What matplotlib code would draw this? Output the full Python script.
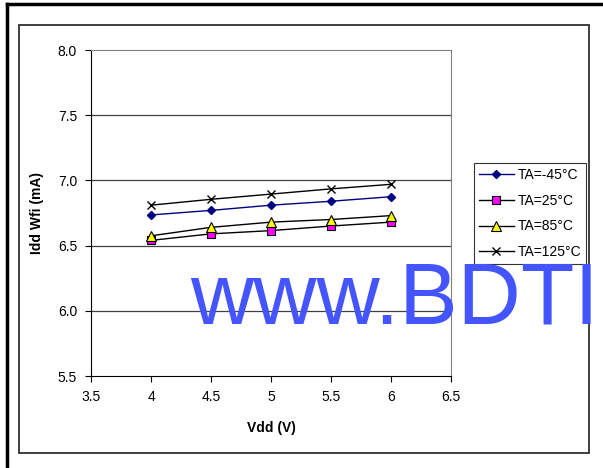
import matplotlib.pyplot as plt
from matplotlib.lines import Line2D
from matplotlib.patches import Rectangle

plt.rcParams['font.family'] = ['Liberation Sans', 'DejaVu Sans']

vdd = [4, 4.5, 5, 5.5, 6]
idd_m45 = [6.735, 6.77, 6.81, 6.84, 6.875]
idd_25 = [6.54, 6.59, 6.615, 6.65, 6.68]
idd_85 = [6.575, 6.64, 6.68, 6.70, 6.73]
idd_125 = [6.81, 6.855, 6.895, 6.935, 6.97]
labels = ["TA=-45°C", "TA=25°C", "TA=85°C", "TA=125°C"]

W, H = 603, 468
fig = plt.figure(figsize=(W / 100, H / 100), dpi=100)

# page frames
fig.add_artist(Line2D([6.5 / W, 6.5 / W], [0, 1 - 3.5 / H], color='black', lw=2.5,
                      transform=fig.transFigure))
fig.add_artist(Line2D([6.5 / W, 1], [1 - 3.5 / H, 1 - 3.5 / H], color='black', lw=2.5,
                      transform=fig.transFigure))
fig.add_artist(Rectangle((19 / W, (H - 453) / H), 570 / W, 428 / H, fill=False,
                         edgecolor='#303030', lw=1.3, transform=fig.transFigure))

ax = fig.add_axes([91 / W, (H - 376) / H, 360 / W, 326 / H])

ax.plot(vdd, idd_m45, color='#000080', lw=1, marker='D', ms=4.5,
        mfc='#000080', mec='#000080', label=labels[0])
ax.plot(vdd, idd_25, color='black', lw=1, marker='s', ms=6,
        mfc='#FF00FF', mec='black', mew=0.8, label=labels[1])
ax.plot(vdd, idd_85, color='black', lw=1, marker='^', ms=7,
        mfc='#FFFF00', mec='black', mew=0.8, label=labels[2])
ax.plot(vdd, idd_125, color='black', lw=1, marker='x', ms=6,
        mec='black', mew=1, label=labels[3])

ax.set_xlim(3.5, 6.5)
ax.set_ylim(5.5, 8.0)
ax.set_xticks([3.5, 4, 4.5, 5, 5.5, 6, 6.5])
ax.set_xticklabels(['3.5', '4', '4.5', '5', '5.5', '6', '6.5'])
ax.set_yticks([5.5, 6.0, 6.5, 7.0, 7.5, 8.0])
ax.set_yticklabels(['5.5', '6.0', '6.5', '7.0', '7.5', '8.0'])
ax.tick_params(direction='out', length=4, width=0.8, labelsize=10, pad=6)

for y in [6.0, 6.5, 7.0, 7.5]:
    ax.axhline(y, color='#404040', lw=0.9, zorder=0)

ax.spines['left'].set_color('black')
ax.spines['bottom'].set_color('black')
ax.spines['top'].set_color('#808080')
ax.spines['right'].set_color('#808080')

ax.set_xlabel('Vdd (V)', fontsize=10, fontweight='bold', labelpad=12)
ax.set_ylabel('Idd Wfi (mA)', fontsize=10, fontweight='bold', labelpad=10)

leg = fig.legend(loc='upper left', bbox_to_anchor=(474 / W, 1 - 163 / H),
                 fontsize=10, frameon=True, fancybox=False, edgecolor='black',
                 borderpad=0.35, labelspacing=0.85, handlelength=2.5,
                 handletextpad=0.3, borderaxespad=0)
leg.get_frame().set_linewidth(0.8)

# watermark overlay, drawn over the legend as in the original
fig.text(190 / W, 1 - 323 / H, 'www.BDTI', color='#4455FF', fontsize=63,
         ha='left', va='baseline', zorder=10)

fig.savefig('out.png', dpi=100)
